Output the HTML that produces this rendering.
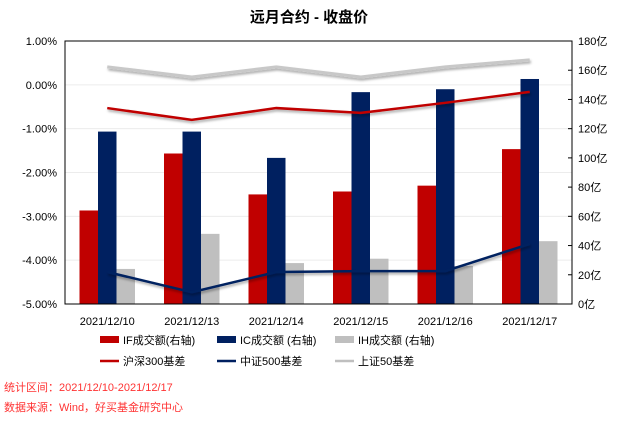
<!DOCTYPE html>
<html><head><meta charset="utf-8"><style>
body{margin:0;background:#fff;font-family:"Liberation Sans","Noto Sans CJK SC",sans-serif;}
</style></head><body>
<svg id="c" width="618" height="423" xmlns="http://www.w3.org/2000/svg">
<defs><filter id="sh" x="-10%" y="-50%" width="120%" height="200%"><feDropShadow dx="1" dy="2" stdDeviation="1.2" flood-opacity="0.35"/></filter></defs>
<text x="309" y="22" text-anchor="middle" font-size="15" font-weight="bold" fill="#000" font-family="Liberation Sans,Noto Sans CJK SC,sans-serif">远月合约 - 收盘价</text>
<g id="grid"></g><g id="bars"></g><g id="lines"></g><g id="axes"></g><g id="legend"></g>
<text x="4" y="391" font-size="11" fill="#ff3333">统计区间：2021/12/10-2021/12/17</text>
<text x="4" y="411" font-size="11" fill="#ff3333">数据来源：Wind，好买基金研究中心</text>
</svg>
<script>
const categories=["2021/12/10","2021/12/13","2021/12/14","2021/12/15","2021/12/16","2021/12/17"];
const ifVol=[64,103,75,77,81,106];
const icVol=[118,118,100,145,147,154];
const ihVol=[24,48,28,31,26,43];
const hs300=[-0.53,-0.80,-0.53,-0.64,-0.41,-0.16];
const zz500=[-4.27,-4.73,-4.27,-4.25,-4.25,-3.63];
const sz50=[0.41,0.18,0.41,0.18,0.41,0.57];
const leftTicks=[1,0,-1,-2,-3,-4,-5];
const rightTicks=[0,20,40,60,80,100,120,140,160,180];
const NS="http://www.w3.org/2000/svg";
const X0=65,X1=572,Y0=41,Y1=304;
const bw=(X1-X0)/categories.length;
const xc=i=>X0+bw*(i+0.5);
const yL=v=>Y0+(1-v)/6*(Y1-Y0);
const yR=v=>Y1-v/180*(Y1-Y0);
function mk(tag,attrs,parent){const e=document.createElementNS(NS,tag);for(const k in attrs)e.setAttribute(k,attrs[k]);document.getElementById(parent).appendChild(e);return e;}
leftTicks.forEach(t=>{
 const g=mk('line',{x1:X0,x2:X1,y1:yL(t),y2:yL(t),stroke:'#ececec','stroke-width':1},'grid');
 
 
 const tx=mk('text',{x:X0-8,y:yL(t)+4,'text-anchor':'end','font-size':11,fill:'#000'},'axes');
 tx.textContent=t.toFixed(2)+'%';
 
 
});
rightTicks.forEach(t=>{
 const l=mk('line',{x1:X1,x2:X1-4,y1:yR(t),y2:yR(t),stroke:'#000'},'axes');
 
 
 const tx=mk('text',{x:X1+6,y:yR(t)+4,'font-size':11,fill:'#000'},'axes');
 tx.textContent=t+'亿';
 
 
});
const fr=mk('rect',{x:X0,y:Y0,width:X1-X0,height:Y1-Y0,fill:'none',stroke:'#000','stroke-width':1},'axes');


categories.forEach((c,i)=>{
 const tx=mk('text',{x:xc(i),y:325,'text-anchor':'middle','font-size':11,fill:'#000'},'axes');
 tx.textContent=c;
 
 
});
const series=[[ifVol,'#c00000','if-volume-bar'],[icVol,'#002060','ic-volume-bar'],[ihVol,'#bfbfbf','ih-volume-bar']];
const w=18.5;
series.forEach((s,k)=>{
 s[0].forEach((v,i)=>{
  const x=xc(i)-1.5*w+k*w;
  const r=mk('rect',{x:x,y:yR(v),width:w,height:Y1-yR(v),fill:s[1]},'bars');
  
  
 });
});
const lines=[[sz50,'#c8c8c8',3,'sz50-basis-line'],[hs300,'#c00000',2.5,'hs300-basis-line'],[zz500,'#002060',2.5,'zz500-basis-line']];
lines.forEach(l=>{
 const p=mk('polyline',{points:l[0].map((v,i)=>xc(i)+','+yL(v)).join(' '),fill:'none',stroke:l[1],'stroke-width':l[2],filter:'url(#sh)'},'lines');
 
 
});
const leg=[['IF成交额(右轴)','#c00000','rect',100,342],['IC成交额 (右轴)','#002060','rect',217,342],['IH成交额 (右轴)','#bfbfbf','rect',335,342],
['沪深300基差','#c00000','line',100,363],['中证500基差','#002060','line',217,363],['上证50基差','#bfbfbf','line',335,363]];
leg.forEach(e=>{
 const m=e[2]==='rect'?mk('rect',{x:e[3],y:e[4]-6,width:19,height:7,fill:e[1]},'legend'):mk('line',{x1:e[3],x2:e[3]+19,y1:e[4]-2,y2:e[4]-2,stroke:e[1],'stroke-width':2.5},'legend');
 
 
 const t=mk('text',{x:e[3]+23,y:e[4]+2,'font-size':11,fill:'#000'},'legend');
 t.textContent=e[0];
 
 
});
</script>
</body></html>
